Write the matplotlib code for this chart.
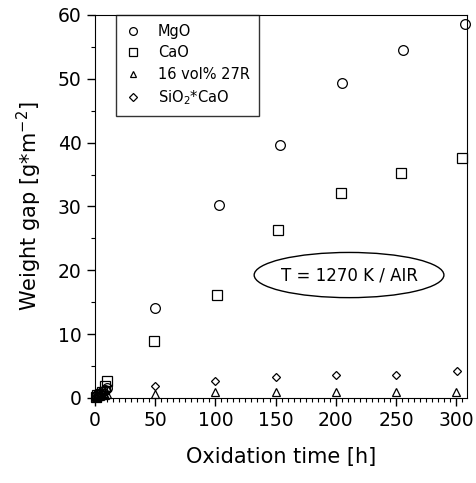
import matplotlib.pyplot as plt
import numpy as np
from matplotlib.patches import Ellipse
from matplotlib.ticker import MultipleLocator

# oxidation times [h]
t_short = [1, 2, 4, 6, 8, 10]
t_mgo = t_short + [50, 103, 154, 205, 256, 307]
t_cao = t_short + [49, 101, 152, 204, 254, 305]
t_27r = t_short + [50, 100, 150, 200, 250, 300]
t_sio2 = t_short + [50, 100, 150, 200, 250, 301]

# weight gain [g*m^-2]
mgo = [0.2, 0.4, 0.7, 0.9, 1.2, 1.5, 14.1, 30.2, 39.7, 49.3, 54.5, 58.6]
cao = [0.2, 0.4, 0.6, 0.9, 1.9, 2.6, 8.9, 16.1, 26.3, 32.1, 35.2, 37.6]
r27 = [0.1, 0.2, 0.3, 0.4, 0.5, 0.6, 0.7, 1.0, 1.0, 1.0, 1.0, 1.0]
sio2 = [0.2, 0.4, 0.6, 0.8, 1.0, 1.2, 1.9, 2.6, 3.3, 3.6, 3.6, 4.3]

plt.rcParams['font.family'] = 'DejaVu Sans'

fig = plt.figure(figsize=(4.77, 4.83), dpi=100)
ax = fig.add_axes([0.199, 0.176, 0.78, 0.793])

kw = dict(linestyle='none', mfc='none', mec='black', mew=0.9, clip_on=False)
ax.plot(t_mgo, mgo, marker='o', ms=7, label='MgO', **kw)
ax.plot(t_cao, cao, marker='s', ms=6.5, label='CaO', **kw)
ax.plot(t_27r, r27, marker='^', ms=6, label='16 vol% 27R', **kw)
ax.plot(t_sio2, sio2, marker='D', ms=4.5, label='SiO$_2$*CaO', **kw)

ax.set_xlim(0, 309)
ax.set_ylim(0, 60)
ax.xaxis.set_major_locator(MultipleLocator(50))
ax.xaxis.set_minor_locator(MultipleLocator(5))
ax.yaxis.set_major_locator(MultipleLocator(10))
ax.yaxis.set_minor_locator(MultipleLocator(5))
ax.tick_params(which='major', direction='out', length=6, width=1, labelsize=13.5)
ax.tick_params(which='minor', direction='out', length=3, width=0.8)

ax.set_xlabel('Oxidation time [h]', fontsize=15, labelpad=12)
ax.set_ylabel('Weight gap [g$*$m$^{-2}$]', fontsize=15, labelpad=10)

leg = ax.legend(loc='upper left', bbox_to_anchor=(0.056, 1.0), fontsize=10.5,
                frameon=True, fancybox=False, borderpad=0.6, handletextpad=1.1,
                handlelength=1.2, markerscale=0.8, labelspacing=0.45,
                borderaxespad=0)
leg.get_frame().set_edgecolor('black')
leg.get_frame().set_linewidth(1)

ell = Ellipse((0.683, 0.321), 0.51, 0.118, transform=ax.transAxes,
              fill=False, edgecolor='black', lw=1)
ax.add_patch(ell)
ax.text(0.683, 0.321, 'T = 1270 K / AIR', transform=ax.transAxes,
        ha='center', va='center', fontsize=12)

fig.savefig('out.png', dpi=100)
